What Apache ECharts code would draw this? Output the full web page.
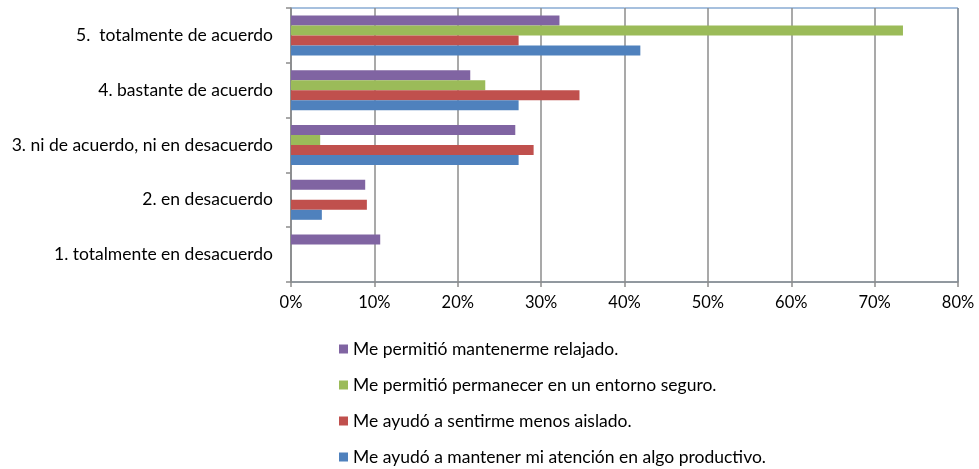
<!DOCTYPE html>
<html>
<head>
<meta charset="utf-8">
<script src="https://cdn.jsdelivr.net/npm/echarts@6/dist/echarts.min.js"></script>
<style>
    html, body { margin: 0; padding: 0; background: #fff; }
    #chart { width: 979px; height: 469px; }
</style>
</head>
<body>
<div id="chart"></div>
<script>
// categories, bottom to top
const categories = [
    '1. totalmente en desacuerdo',
    '2. en desacuerdo',
    '3. ni de acuerdo, ni en desacuerdo',
    '4. bastante de acuerdo',
    '5.  totalmente de acuerdo'
];

// values in %
const relajado = [10.7, 8.9, 26.9, 21.5, 32.2];
const seguro = [0, 0, 3.5, 23.3, 73.4];
const aislado = [0, 9.1, 29.1, 34.6, 27.3];
const productivo = [0, 3.7, 27.3, 27.3, 41.9];

const seriesNames = [
    'Me permitió mantenerme relajado.',
    'Me permitió permanecer en un entorno seguro.',
    'Me ayudó a sentirme menos aislado.',
    'Me ayudó a mantener mi atención en algo productivo.'
];
const colors = ['#8064a2', '#9bbb59', '#c0504d', '#4f81bd'];
const seriesData = [relajado, seguro, aislado, productivo];

const font = 'Lato, "Open Sans", sans-serif';

const chart = echarts.init(document.getElementById('chart'));
chart.setOption({
    animation: false,
    textStyle: { fontFamily: font },
    grid: {
        left: 291,
        right: 21,
        top: 8,
        bottom: 187,
        show: true,
        borderColor: '#4f81bd',
        borderWidth: 1
    },
    legend: {
        orient: 'vertical',
        left: 339,
        top: 339,
        bottom: 0,
        padding: 0,
        itemWidth: 9,
        itemHeight: 9,
        itemGap: 16,
        icon: 'rect',
        textStyle: { fontSize: 17.5, lineHeight: 20, color: '#000', fontFamily: font },
        data: seriesNames
    },
    xAxis: {
        type: 'value',
        min: 0,
        max: 80,
        interval: 10,
        axisLine: { show: true, lineStyle: { color: '#8c8c8c', width: 1.5 } },
        axisTick: { show: true, length: 5, lineStyle: { color: '#8c8c8c', width: 1.5 } },
        splitLine: { show: true, lineStyle: { color: '#8c8c8c', width: 1.5 } },
        axisLabel: { formatter: '{value}%', fontSize: 16.5, color: '#000', margin: 12 }
    },
    yAxis: {
        type: 'category',
        data: categories,
        axisLine: { show: true, lineStyle: { color: '#8c8c8c', width: 1.5 } },
        axisTick: { show: true, length: 5, lineStyle: { color: '#8c8c8c', width: 1.5 } },
        axisLabel: { fontSize: 17.5, color: '#000', margin: 18 }
    },
    series: seriesData.map((d, i) => ({
        name: seriesNames[i],
        type: 'bar',
        data: d,
        barWidth: 10,
        barGap: '0%',
        itemStyle: { color: colors[i] }
    }))
});
</script>
</body>
</html>
